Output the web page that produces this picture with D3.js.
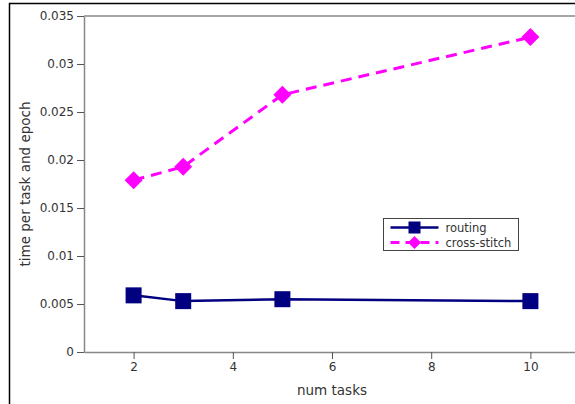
<!DOCTYPE html>
<html>
<head>
<meta charset="utf-8">
<script src="https://cdn.jsdelivr.net/npm/d3@7"></script>
<style>
  html, body { margin: 0; padding: 0; background: #fff; }
  svg { display: block; }
  text { font-family: "DejaVu Sans", Verdana, sans-serif; fill: #333; }
</style>
</head>
<body>
<svg id="chart" width="575" height="404"></svg>
<script>
// Time per task and epoch against number of tasks
const numTasks = [2, 3, 5, 10];
const routing = [0.0059, 0.0053, 0.0055, 0.0053];
const crossStitch = [0.0179, 0.0193, 0.0268, 0.0328];
const yTicks = [0, 0.005, 0.01, 0.015, 0.02, 0.025, 0.03, 0.035];
const yTickLabels = ["0", "0.005", "0.01", "0.015", "0.02", "0.025", "0.03", "0.035"];
const xTicks = [2, 4, 6, 8, 10];
const seriesNames = ["routing", "cross-stitch"];

const svg = d3.select("#chart");
const margin = { left: 84, top: 16, bottom: 352, right: 580 };

const x = d3.scaleLinear().domain([1, 11]).range([margin.left, margin.right]);
const y = d3.scaleLinear().domain([0, 0.035]).range([margin.bottom, margin.top]);

// outer frame
svg.append("rect")
  .attr("x", 9.5).attr("y", 3.5)
  .attr("width", 600).attr("height", 420)
  .attr("fill", "none").attr("stroke", "#000").attr("stroke-width", 1.5);

// plot frame top edge
svg.append("line")
  .attr("x1", margin.left).attr("x2", margin.right)
  .attr("y1", margin.top).attr("y2", margin.top)
  .attr("stroke", "#888").attr("stroke-width", 1.5);

const yAxis = d3.axisLeft(y)
  .tickValues(yTicks)
  .tickFormat((d, i) => yTickLabels[i])
  .tickSize(7).tickPadding(3).tickSizeOuter(0);
const gy = svg.append("g").attr("transform", `translate(${margin.left},0)`).call(yAxis);

const xAxis = d3.axisBottom(x)
  .tickValues(xTicks)
  .tickSize(7).tickPadding(3).tickSizeOuter(0);
const gx = svg.append("g").attr("transform", `translate(0,${margin.bottom})`).call(xAxis);

[gx, gy].forEach(g => {
  g.select(".domain").attr("stroke", "#888").attr("stroke-width", 1.5);
  g.selectAll(".tick line").attr("stroke", "#555").attr("stroke-width", 1);
  g.selectAll(".tick text").attr("font-size", 12).attr("fill", "#333")
    .attr("font-family", '"DejaVu Sans", Verdana, sans-serif');
});

// axis titles
svg.append("text")
  .attr("x", (margin.left + margin.right) / 2).attr("y", 395)
  .attr("text-anchor", "middle").attr("font-size", 13.5)
  .text("num tasks");
svg.append("text")
  .attr("transform", `translate(30,${(margin.top + margin.bottom) / 2}) rotate(-90)`)
  .attr("text-anchor", "middle").attr("font-size", 13.5)
  .text("time per task and epoch");

const line = d3.line().x(d => x(d[0])).y(d => y(d[1]));
const routingPts = numTasks.map((n, i) => [n, routing[i]]);
const crossPts = numTasks.map((n, i) => [n, crossStitch[i]]);

const navy = "#000080", magenta = "#ff00ff";
const sq = 16, dia = 9;
const diamondPath = (cx, cy) => `M${cx},${cy - dia}L${cx + dia},${cy}L${cx},${cy + dia}L${cx - dia},${cy}Z`;

// cross-stitch series
svg.append("path").datum(crossPts)
  .attr("d", line).attr("fill", "none")
  .attr("stroke", magenta).attr("stroke-width", 3)
  .attr("stroke-dasharray", "11,7");
svg.selectAll(".cs-marker").data(crossPts).enter().append("path")
  .attr("class", "cs-marker")
  .attr("d", d => diamondPath(x(d[0]), y(d[1])))
  .attr("fill", magenta);

// routing series
svg.append("path").datum(routingPts)
  .attr("d", line).attr("fill", "none")
  .attr("stroke", navy).attr("stroke-width", 2.5);
svg.selectAll(".rt-marker").data(routingPts).enter().append("rect")
  .attr("class", "rt-marker")
  .attr("x", d => x(d[0]) - sq / 2).attr("y", d => y(d[1]) - sq / 2)
  .attr("width", sq).attr("height", sq)
  .attr("fill", navy);

// legend
const lg = svg.append("g").attr("transform", "translate(383.5,218.5)");
lg.append("rect").attr("width", 135).attr("height", 32)
  .attr("fill", "#fff").attr("stroke", "#444").attr("stroke-width", 1);
const rows = [
  { name: seriesNames[0], color: navy, dash: null, shape: "square", yy: 9 },
  { name: seriesNames[1], color: magenta, dash: "9,6", shape: "diamond", yy: 24 }
];
rows.forEach(r => {
  lg.append("line").attr("x1", 7).attr("x2", 55).attr("y1", r.yy).attr("y2", r.yy)
    .attr("stroke", r.color).attr("stroke-width", r.dash ? 3 : 2.5)
    .attr("stroke-dasharray", r.dash);
  if (r.shape === "square") {
    lg.append("rect").attr("x", 31 - 6).attr("y", r.yy - 6).attr("width", 12).attr("height", 12)
      .attr("fill", r.color);
  } else {
    const h = 6.5;
    lg.append("path").attr("d", `M31,${r.yy - h}L${31 + h},${r.yy}L31,${r.yy + h}L${31 - h},${r.yy}Z`)
      .attr("fill", r.color);
  }
  lg.append("text").attr("x", 62).attr("y", r.yy + 4).attr("font-size", 11.5).text(r.name);
});
</script>
</body>
</html>
